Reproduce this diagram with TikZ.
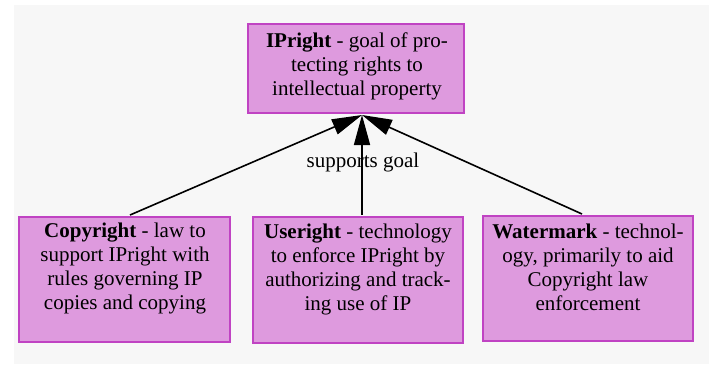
\documentclass[tikz,border=0pt]{standalone}
\usepackage{fontspec}
\setmainfont{Liberation Serif}
\usetikzlibrary{arrows.meta}
\definecolor{canvas}{HTML}{F7F7F7}
\definecolor{boxfill}{HTML}{DE9ADE}
\definecolor{boxline}{HTML}{C043C3}
\tikzset{
  box/.style={draw=boxline, fill=boxfill, line width=2pt, rectangle, inner sep=0pt},
  txt/.style={font=\fontsize{21}{24}\selectfont, align=center, inner sep=0pt, anchor=north},
  arr/.style={draw=black, line width=1.6pt, -{Triangle[length=30pt,width=16pt]}},
  lbl/.style={font=\fontsize{21}{24}\selectfont, inner sep=0pt, anchor=base}
}
\begin{document}
\begin{tikzpicture}[x=1pt, y=-1pt]
  \useasboundingbox (0,0) rectangle (709,364);
  \fill[canvas] (14,5) rectangle (709,364);

  % boxes
  \node[box, minimum width=216pt, minimum height=89pt]  (ip)   at (356,68.5)  {};
  \node[box, minimum width=211pt, minimum height=125pt] (copy) at (124.5,279.5) {};
  \node[box, minimum width=210pt, minimum height=126pt] (use)  at (358,280)   {};
  \node[box, minimum width=210pt, minimum height=125pt] (wm)   at (588,278.5) {};

  % box texts (north = first baseline - strut height)
  \node[txt] (iptext) at (357,30.5)
    {\strut\textbf{IPright} - goal of pro-\\\strut tecting rights to\\\strut intellectual property};
  \node[txt] (copytext) at (125,220.5)
    {\strut\textbf{Copyright} - law to\\\strut support IPright with\\\strut rules governing IP\\\strut copies and copying};
  \node[txt] (usetext) at (358,221.5)
    {\strut\textbf{Useright} - technology\\\strut to enforce IPright by\\\strut authorizing and track-\\\strut ing use of IP};
  \node[txt] (wmtext) at (588,221.5)
    {\strut\textbf{Watermark} - technol-\\\strut ogy, primarily to aid\\\strut Copyright law\\\strut enforcement};

  % connectors
  \coordinate (tip) at ([xshift=6pt,yshift=-1pt]ip.south);
  \draw[arr] ([xshift=5.5pt,yshift=1pt]copy.north) -- (tip);
  \draw[arr] ([xshift=4pt,yshift=1pt]use.north) -- (tip);
  \draw[arr] ([xshift=-6pt,yshift=1pt]wm.north) -- (tip);

  \node[lbl] (goal) at (363,167) {supports goal};
\end{tikzpicture}
\end{document}
